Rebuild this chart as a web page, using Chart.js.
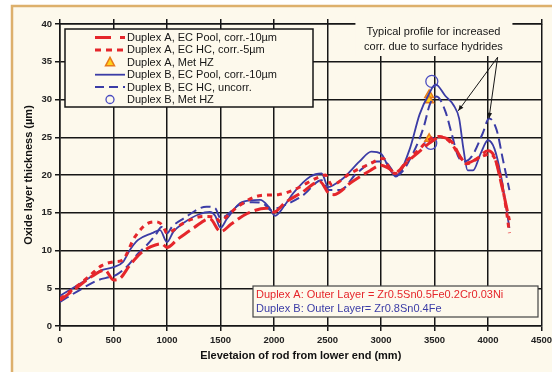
<!DOCTYPE html>
<html>
<head>
<meta charset="utf-8">
<script src="https://cdn.jsdelivr.net/npm/chart.js@4.4.1/dist/chart.umd.min.js"></script>
<style>
  html, body { margin: 0; padding: 0; background: #ffffff; }
  #wrap { width: 552px; height: 372px; }
  canvas { display: block; }
</style>
</head>
<body>
<div id="wrap"><canvas id="chart" width="552" height="372"></canvas></div>
<script>
// Elevation (mm) / oxide thickness (µm) along the rod

// Duplex A, EC Pool, corr. -10 µm
const poolAX = [0,150,300,420,500,560,650,750,850,950,1000,1100,1250,1400,1500,1600,1750,1930,2000,2100,2250,2430,2510,2560,2720,2900,3000,3080,3130,3250,3350,3460,3550,3660,3750,3800,3900,4000,4060,4130,4200];
const poolAY = [3.4,5.0,6.6,7.4,6.1,6.3,8.0,9.6,10.5,10.9,10.4,11.5,13.0,14.2,12.5,13.5,14.9,15.6,15.1,16.3,17.6,19.1,17.6,17.4,19.0,20.6,21.3,20.8,20.3,21.8,23.0,24.3,25.0,24.4,22.2,21.6,22.2,23.2,22.4,18.5,14.0];

// Duplex A, EC HC, corr. -5 µm
const hcAX = [0,170,265,390,500,580,700,820,900,960,1000,1050,1150,1340,1450,1500,1550,1680,1880,2040,2180,2430,2480,2540,2710,2900,3020,3080,3130,3250,3350,3460,3550,3650,3740,3800,3920,4020,4070,4120,4170,4200];
const hcAY = [3.6,5.4,6.5,8.0,8.5,8.7,11.8,13.6,13.8,13.3,12.3,12.6,13.6,14.5,14.4,13.8,14.4,16.0,17.3,17.4,18.0,19.8,20.0,18.7,20.2,21.5,22.2,20.9,20.2,22.0,23.3,24.8,25.1,24.3,22.4,21.5,22.3,22.8,22.0,19.5,15.5,12.3];

// Duplex A, metallographic HZ
const metAX = [3450,3450,3450];
const metAY = [30.6,29.9,24.8];

// Duplex B, EC Pool, corr. -10 µm
const poolBX = [0,140,265,390,500,590,650,730,860,935,1000,1060,1150,1300,1400,1450,1500,1560,1700,1870,1950,2010,2100,2180,2340,2445,2507,2560,2650,2800,2910,3000,3080,3140,3270,3360,3450,3510,3600,3680,3730,3770,3810,3860,3930,4000,4060,4120,4200];
const poolBY = [4.0,5.2,6.3,7.4,7.8,8.5,10.0,11.4,12.3,12.7,11.1,12.5,13.6,14.8,15.1,14.6,13.0,14.2,16.4,16.7,15.8,14.6,16.0,17.6,19.8,20.2,18.4,18.7,19.6,21.8,23.1,22.8,20.8,19.8,23.5,28.0,30.8,32.0,30.5,29.2,27.5,23.5,20.6,20.6,22.8,24.6,23.5,20.0,13.0];

// Duplex B, EC HC, uncorr.
const hcBX = [0,200,360,470,530,620,730,810,890,950,1000,1050,1150,1370,1450,1500,1550,1670,1800,1900,1980,2030,2100,2270,2445,2510,2620,2770,2960,3050,3150,3300,3400,3460,3520,3600,3660,3720,3780,3850,3950,4010,4080,4140,4200];
const hcBY = [3.2,4.9,6.1,6.5,6.8,7.8,9.6,10.7,12.0,13.1,12.3,13.2,14.2,15.8,15.6,14.3,14.6,16.0,16.4,16.2,15.3,15.6,16.0,17.3,19.3,18.0,18.0,20.2,21.8,21.6,20.0,22.9,26.4,29.5,30.4,28.5,25.5,22.5,21.8,22.5,25.5,27.5,26.0,22.0,18.0];

// Duplex B, metallographic HZ
const metBX = [3475,3465];
const metBY = [32.4,24.2];

// Axis ranges and tick steps
const xRange = [0, 4500], xStep = 500;
const yRange = [0, 40], yStep = 5;

const seriesNames = [
  'Duplex A, EC Pool, corr.-10\u00b5m',
  'Duplex A, EC HC, corr.-5\u00b5m',
  'Duplex A, Met HZ',
  'Duplex B, EC Pool, corr.-10\u00b5m',
  'Duplex B, EC HC, uncorr.',
  'Duplex B, Met HZ'
];
const noteLines = ['Typical profile for increased', 'corr. due to surface hydrides'];
const alloyLines = [
  'Duplex A: Outer Layer = Zr0.5Sn0.5Fe0.2Cr0.03Ni',
  'Duplex B: Outer Layer= Zr0.8Sn0.4Fe'
];

const RED = '#e5262b', BLUE = '#3b3ca6', CREAM = '#fdf9ec', INK = '#161616';
const FONT = "'Liberation Sans', Arial, sans-serif";

const pts = (xs, ys) => xs.map((x, i) => ({ x, y: ys[i] }));

const lineDefaults = { showLine: true, pointRadius: 0, pointHoverRadius: 0, fill: false, cubicInterpolationMode: 'monotone' };

const datasets = [
  { ...lineDefaults, label: seriesNames[0], data: pts(poolAX, poolAY), borderColor: RED, borderWidth: 3, borderDash: [14, 5] },
  { ...lineDefaults, label: seriesNames[1], data: pts(hcAX, hcAY), borderColor: RED, borderWidth: 3, borderDash: [5, 5] },
  { ...lineDefaults, label: seriesNames[3], data: pts(poolBX, poolBY), borderColor: BLUE, borderWidth: 1.8 },
  { ...lineDefaults, label: seriesNames[4], data: pts(hcBX, hcBY), borderColor: BLUE, borderWidth: 2, borderDash: [10, 5] },
  { label: seriesNames[2], data: pts(metAX, metAY), showLine: false, pointStyle: 'triangle', pointRadius: 5,
    pointBackgroundColor: '#ffd21a', pointBorderColor: '#e8791a', pointBorderWidth: 1.5 },
  { label: seriesNames[5], data: pts(metBX, metBY), showLine: false, pointStyle: 'circle', pointRadius: 6,
    pointBackgroundColor: 'rgba(0,0,0,0)', pointBorderColor: '#4a4cc0', pointBorderWidth: 1.3 }
];

// Page frame: cream panel with a tan edge
const framePlugin = {
  id: 'frame',
  beforeDraw(chart) {
    const { ctx, width, height } = chart;
    ctx.save();
    ctx.fillStyle = '#ffffff';
    ctx.fillRect(0, 0, width, height);
    ctx.fillStyle = CREAM;
    ctx.fillRect(12, 6, width - 12, height - 6);
    ctx.strokeStyle = '#ddb06c';
    ctx.lineWidth = 2.5;
    ctx.beginPath();
    ctx.moveTo(12, height);
    ctx.lineTo(12, 6);
    ctx.lineTo(width, 6);
    ctx.stroke();
    ctx.restore();
  }
};

function arrow(ctx, x0, y0, x1, y1) {
  const a = Math.atan2(y1 - y0, x1 - x0), L = 6, W = 0.4;
  ctx.beginPath();
  ctx.moveTo(x0, y0);
  ctx.lineTo(x1, y1);
  ctx.stroke();
  ctx.beginPath();
  ctx.moveTo(x1, y1);
  ctx.lineTo(x1 - L * Math.cos(a - W), y1 - L * Math.sin(a - W));
  ctx.lineTo(x1 - L * Math.cos(a + W), y1 - L * Math.sin(a + W));
  ctx.closePath();
  ctx.fill();
}

// Legend box, hydride note with arrows, alloy composition box
const overlayPlugin = {
  id: 'overlay',
  afterDraw(chart) {
    const { ctx, chartArea: ca, scales: { x, y } } = chart;
    ctx.save();

    // legend, in the order of the series names
    const lx = ca.left + 5, ly = ca.top + 5, lw = 248, lh = 78;
    ctx.fillStyle = CREAM;
    ctx.fillRect(lx, ly, lw, lh);
    ctx.strokeStyle = INK;
    ctx.lineWidth = 1.5;
    ctx.strokeRect(lx, ly, lw, lh);
    const sx0 = lx + 30, sx1 = lx + 60, tx = lx + 62;
    ctx.font = '11px ' + FONT;
    ctx.textBaseline = 'middle';
    ctx.textAlign = 'left';
    seriesNames.forEach((name, row) => {
      const ds = datasets.find(d => d.label === name);
      const ry = ly + 8.5 + row * 12.4;
      if (ds.showLine) {
        ctx.save();
        ctx.strokeStyle = ds.borderColor;
        ctx.lineWidth = ds.borderWidth;
        let dash = [];
        if (row === 0) dash = [16, 9];
        else if (row === 1) dash = [6, 5];
        else if (ds.borderDash) dash = [9, 5];
        ctx.setLineDash(dash);
        ctx.beginPath();
        ctx.moveTo(sx0, ry);
        ctx.lineTo(sx1, ry);
        ctx.stroke();
        ctx.restore();
      } else {
        const cx = (sx0 + sx1) / 2;
        ctx.save();
        if (ds.pointStyle === 'triangle') {
          ctx.fillStyle = ds.pointBackgroundColor;
          ctx.strokeStyle = ds.pointBorderColor;
          ctx.lineWidth = 1.5;
          ctx.beginPath();
          ctx.moveTo(cx, ry - 5);
          ctx.lineTo(cx + 4.5, ry + 3.5);
          ctx.lineTo(cx - 4.5, ry + 3.5);
          ctx.closePath();
          ctx.fill();
          ctx.stroke();
        } else {
          ctx.strokeStyle = ds.pointBorderColor;
          ctx.lineWidth = 1.3;
          ctx.beginPath();
          ctx.arc(cx, ry, 4, 0, Math.PI * 2);
          ctx.stroke();
        }
        ctx.restore();
      }
      ctx.fillStyle = INK;
      ctx.fillText(name, tx, ry + 0.5);
    });

    // hydride note
    const nx = x.getPixelForValue(3490);
    ctx.fillStyle = CREAM;
    ctx.fillRect(nx - 78, ca.top - 8, 157, 40);
    ctx.fillStyle = INK;
    ctx.textAlign = 'center';
    ctx.fillText(noteLines[0], nx, ca.top + 8);
    ctx.fillText(noteLines[1], nx, ca.top + 23);
    ctx.strokeStyle = INK;
    ctx.fillStyle = INK;
    ctx.lineWidth = 1;
    const ax = x.getPixelForValue(4090), ay = y.getPixelForValue(35.6);
    arrow(ctx, ax, ay, x.getPixelForValue(3722), y.getPixelForValue(28.5));
    arrow(ctx, ax, ay, x.getPixelForValue(4009), y.getPixelForValue(27.5));

    // alloy composition box
    const bx = 253, by = ca.bottom - 40, bw = 285, bh = 31;
    ctx.fillStyle = CREAM;
    ctx.fillRect(bx, by, bw, bh);
    ctx.strokeStyle = '#444';
    ctx.lineWidth = 1.2;
    ctx.strokeRect(bx, by, bw, bh);
    ctx.textAlign = 'left';
    ctx.fillStyle = RED;
    ctx.fillText(alloyLines[0], bx + 3, by + 8.5);
    ctx.fillStyle = BLUE;
    ctx.fillText(alloyLines[1], bx + 3, by + 22.5);

    ctx.restore();
  }
};

const gridOpts = { color: INK, lineWidth: 1.5, tickLength: 5, tickColor: INK };
const tickFont = { family: FONT, size: 9.5, weight: 'bold' };
const plainNumber = v => String(v);
// the last x label may run past the plot edge, as on the printed figure
const noEdgePadding = s => { s.paddingLeft = 0; s.paddingRight = 0; };

new Chart(document.getElementById('chart'), {
  type: 'scatter',
  data: { datasets },
  options: {
    responsive: false,
    animation: false,
    devicePixelRatio: 1,
    layout: { padding: { left: 0, right: 10.5, top: 0, bottom: 0 } },
    plugins: { legend: { display: false }, tooltip: { enabled: false } },
    scales: {
      x: {
        type: 'linear', position: 'bottom', min: xRange[0], max: xRange[1],
        ticks: { stepSize: xStep, font: tickFont, color: '#222', padding: 4, maxRotation: 0, callback: plainNumber },
        grid: gridOpts,
        border: { color: INK, width: 1.5 },
        title: { display: true, text: 'Elevetaion of rod from lower end (mm)', color: '#111',
                 font: { family: FONT, size: 11, weight: 'bold' }, padding: { top: 0, bottom: 9 } },
        afterFit(s) { s.height = 46; noEdgePadding(s); }
      },
      xTop: {
        type: 'linear', position: 'top', min: xRange[0], max: xRange[1],
        ticks: { display: false, stepSize: xStep },
        grid: { ...gridOpts, drawOnChartArea: false },
        border: { color: INK, width: 1.5 },
        afterFit(s) { s.height = 24; noEdgePadding(s); }
      },
      y: {
        type: 'linear', position: 'left', min: yRange[0], max: yRange[1],
        ticks: { stepSize: yStep, font: tickFont, color: '#222', padding: 3, callback: plainNumber },
        grid: gridOpts,
        border: { color: INK, width: 1.5 },
        title: { display: true, text: 'Oxide layer thickness (\u00b5m)', color: '#111',
                 font: { family: FONT, size: 11, weight: 'bold' }, padding: { top: 22, bottom: 0 } },
        afterFit(s) { s.width = 60; s.paddingTop = 0; s.paddingBottom = 0; }
      }
    }
  },
  plugins: [framePlugin, overlayPlugin]
});
</script>
</body>
</html>
